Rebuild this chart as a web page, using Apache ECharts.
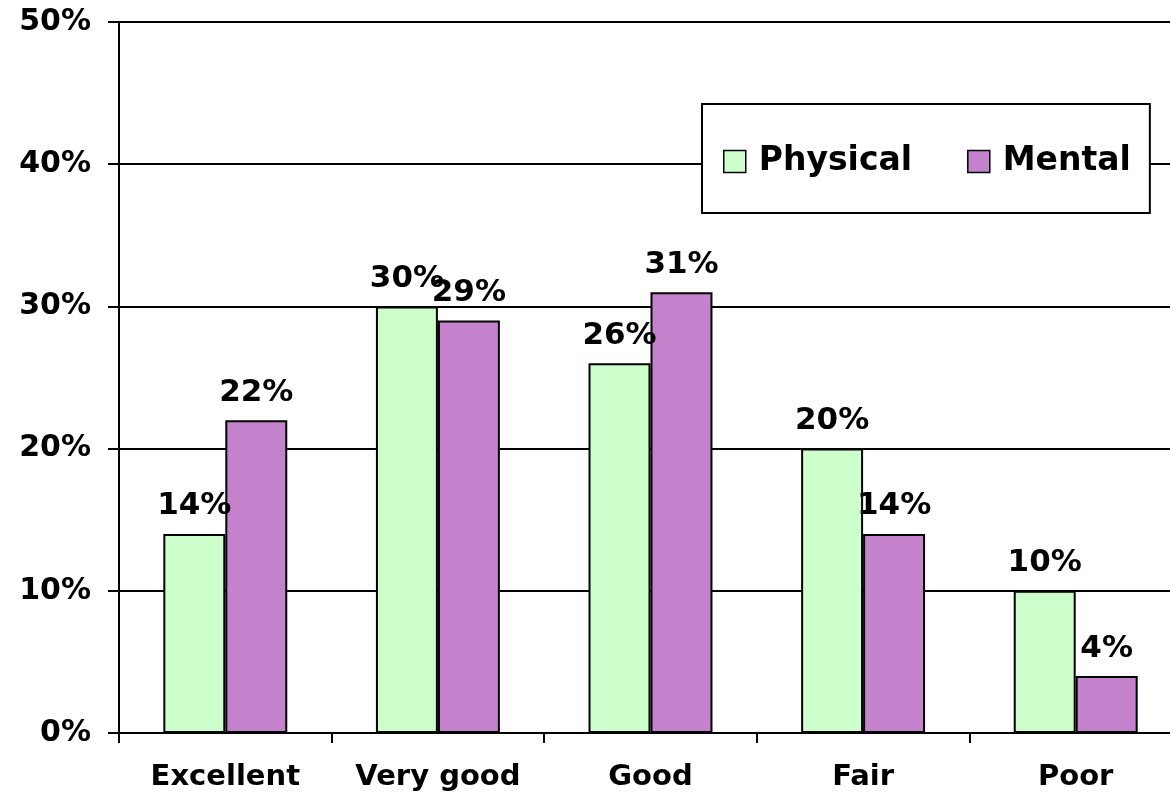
<!DOCTYPE html>
<html>
<head>
<meta charset="utf-8">
<script src="https://cdn.jsdelivr.net/npm/echarts@6/dist/echarts.min.js"></script>
<style>
  html, body { margin: 0; padding: 0; background: #fff; }
  #chart { width: 1170px; height: 802px; }
</style>
</head>
<body>
<div id="chart"></div>
<script>
var categories = ['Excellent', 'Very good', 'Good', 'Fair', 'Poor'];
var physical = [14, 30, 26, 20, 10];
var mental = [22, 29, 31, 14, 4];
var yTicks = [0, 10, 20, 30, 40, 50];

var font = 'DejaVu Sans';
var myChart = echarts.init(document.getElementById('chart'));

function barLabel() {
    return {
        show: true,
        position: 'top',
        distance: 12,
        formatter: '{c}%',
        fontFamily: font,
        fontWeight: 'bold',
        fontSize: 31,
        color: '#000'
    };
}

var option = {
    animation: false,
    grid: {
        left: 119,
        right: -12,
        top: 22,
        bottom: 69,
        outerBoundsMode: 'none'
    },
    legend: {
        left: 702,
        top: 104,
        orient: 'horizontal',
        backgroundColor: '#fff',
        borderColor: '#000',
        borderWidth: 2,
        padding: [41, 19, 35, 21],
        itemWidth: 22,
        itemHeight: 22,
        itemGap: 55,
        icon: 'rect',
        itemStyle: { borderColor: '#000', borderWidth: 1.5 },
        textStyle: {
            fontFamily: font,
            fontWeight: 'bold',
            fontSize: 33,
            color: '#000',
            padding: [0, 0, 0, 8]
        },
        data: ['Physical', 'Mental']
    },
    xAxis: {
        type: 'category',
        data: categories,
        axisLine: { show: true, lineStyle: { color: '#000', width: 2 } },
        axisTick: { show: true, interval: 0, length: 10, lineStyle: { color: '#000', width: 2 } },
        axisLabel: {
            interval: 0,
            margin: 30,
            fontFamily: font,
            fontWeight: 'bold',
            fontSize: 29,
            color: '#000'
        }
    },
    yAxis: {
        type: 'value',
        min: yTicks[0],
        max: yTicks[yTicks.length - 1],
        interval: 10,
        axisLine: { show: true, lineStyle: { color: '#000', width: 2 } },
        axisTick: { show: true, length: 11, lineStyle: { color: '#000', width: 2 } },
        splitLine: { show: true, lineStyle: { color: '#000', width: 2 } },
        axisLabel: {
            margin: 28,
            formatter: '{value}%',
            fontFamily: font,
            fontWeight: 'bold',
            fontSize: 30,
            color: '#000'
        }
    },
    series: [{
        name: 'Physical',
        type: 'bar',
        data: physical,
        barGap: '0%',
        barCategoryGap: '41.7%',
        itemStyle: { color: '#CCFFCC', borderColor: '#000', borderWidth: 2 },
        label: barLabel()
    }, {
        name: 'Mental',
        type: 'bar',
        data: mental,
        barGap: '0%',
        barCategoryGap: '41.7%',
        itemStyle: { color: '#C481CC', borderColor: '#000', borderWidth: 2 },
        label: barLabel()
    }]
};
myChart.setOption(option);
</script>
</body>
</html>
